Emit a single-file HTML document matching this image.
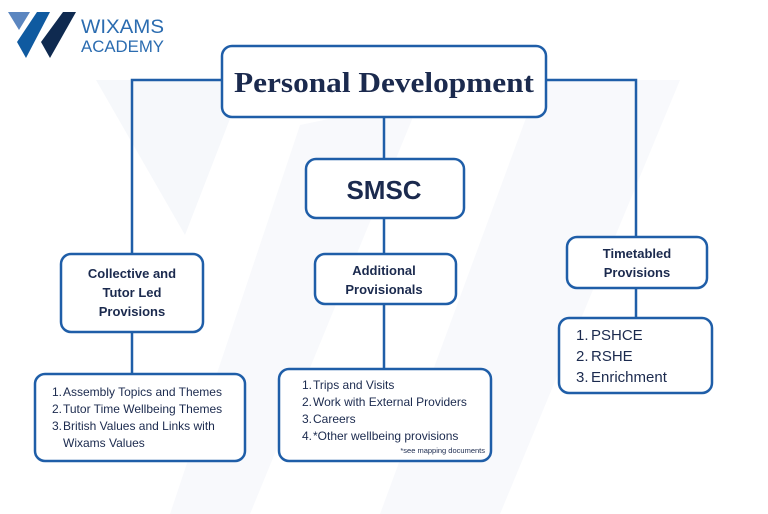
<!DOCTYPE html>
<html><head><meta charset="utf-8"><style>
html,body{margin:0;padding:0;background:#fff;width:768px;height:514px;overflow:hidden}
svg{display:block}
text{font-family:"Liberation Sans",sans-serif;fill:#1b2a4e}
</style></head><body>
<svg width="768" height="514" viewBox="0 0 768 514">
<!-- watermark -->
<polygon points="96,80 245,80 185,235" fill="#f6f8fb"/>
<polygon points="300,125 420,100 250,514 170,514" fill="#f8f9fc"/>
<polygon points="540,80 680,80 500,514 380,514" fill="#f8f9fc"/>
<!-- logo -->
<polygon points="8,12 30,12 19,30" fill="#5b86c0"/>
<polygon points="37,12 50,12 26,58 17,42" fill="#0f5aa0"/>
<polygon points="63,12 76,12 50,58 41,42" fill="#0f2a50"/>
<text x="81" y="33" font-size="19" style="fill:#2b6cb0" textLength="83" lengthAdjust="spacingAndGlyphs">WIXAMS</text>
<text x="81" y="52" font-size="17" style="fill:#2b6cb0" textLength="83" lengthAdjust="spacingAndGlyphs">ACADEMY</text>
<!-- connectors -->
<g stroke="#1f5ea8" stroke-width="2.5" fill="none">
<polyline points="222,80 132,80 132,254"/>
<polyline points="546,80 636,80 636,237"/>
<line x1="384" y1="117" x2="384" y2="159"/>
<line x1="384" y1="218" x2="384" y2="254"/>
<line x1="384" y1="304" x2="384" y2="369"/>
<line x1="132" y1="332" x2="132" y2="374"/>
<line x1="636" y1="288" x2="636" y2="318"/>
</g>
<g stroke="#1f5ea8" stroke-width="2.5" fill="#fff">
<rect x="222" y="46" width="324" height="71" rx="10"/>
<rect x="306" y="159" width="158" height="59" rx="10"/>
<rect x="61" y="254" width="142" height="78" rx="10"/>
<rect x="315" y="254" width="141" height="50" rx="10"/>
<rect x="567" y="237" width="140" height="51" rx="10"/>
<rect x="35" y="374" width="210" height="87" rx="10"/>
<rect x="279" y="369" width="212" height="92" rx="10"/>
<rect x="559" y="318" width="153" height="75" rx="10"/>
</g>
<text x="384" y="92" font-size="28" font-weight="bold" text-anchor="middle" style="font-family:'Liberation Serif',serif" textLength="300" lengthAdjust="spacingAndGlyphs">Personal Development</text>
<text x="384" y="199" font-size="26" font-weight="bold" text-anchor="middle">SMSC</text>
<g font-size="13" font-weight="bold" text-anchor="middle">
<text x="132" y="278">Collective and</text>
<text x="132" y="297">Tutor Led</text>
<text x="132" y="316">Provisions</text>
<text x="384" y="275">Additional</text>
<text x="384" y="294">Provisionals</text>
<text x="637" y="258">Timetabled</text>
<text x="637" y="277">Provisions</text>
</g>
<g font-size="12">
<text x="52" y="396">1.</text><text x="63" y="396">Assembly Topics and Themes</text>
<text x="52" y="413">2.</text><text x="63" y="413">Tutor Time Wellbeing Themes</text>
<text x="52" y="430">3.</text><text x="63" y="430">British Values and Links with</text>
<text x="63" y="447">Wixams Values</text>
<text x="302" y="389">1.</text><text x="313" y="389">Trips and Visits</text>
<text x="302" y="406">2.</text><text x="313" y="406">Work with External Providers</text>
<text x="302" y="423">3.</text><text x="313" y="423">Careers</text>
<text x="302" y="440">4.</text><text x="313" y="440">*Other wellbeing provisions</text>
</g>
<text x="485" y="453" font-size="7.5" text-anchor="end">*see mapping documents</text>
<g font-size="15">
<text x="576" y="340">1.</text><text x="591" y="340">PSHCE</text>
<text x="576" y="361">2.</text><text x="591" y="361">RSHE</text>
<text x="576" y="382">3.</text><text x="591" y="382">Enrichment</text>
</g>
</svg>
</body></html>
